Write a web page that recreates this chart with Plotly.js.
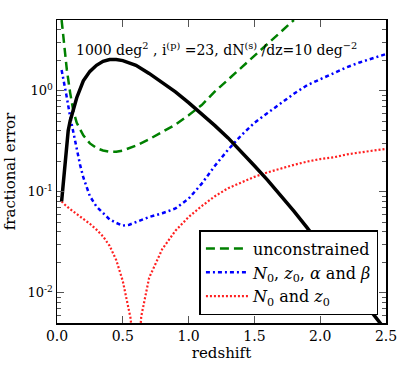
<!DOCTYPE html>
<html>
<head>
<meta charset="utf-8">
<script src="https://cdn.plot.ly/plotly-3.0.1.min.js"></script>
<style>
  html, body { margin: 0; padding: 0; background: #fff; }
  #chart { width: 409px; height: 368px; }
</style>
</head>
<body>
<div id="chart"></div>
<script>
// values
const zBlack = [0.035, 0.05, 0.065, 0.085, 0.1, 0.125, 0.15, 0.2, 0.25, 0.3, 0.35, 0.4, 0.45, 0.5, 0.6, 0.7, 0.8, 0.9, 1.0, 1.1, 1.2, 1.3, 1.4, 1.5, 1.6, 1.7, 1.8, 1.9, 2.0, 2.1, 2.2, 2.3, 2.4, 2.5];
const errBlack = [0.08, 0.13, 0.21, 0.40, 0.50, 0.66, 0.85, 1.25, 1.55, 1.78, 1.95, 2.03, 2.03, 1.98, 1.78, 1.48, 1.2, 0.97, 0.76, 0.59, 0.45, 0.34, 0.25, 0.18, 0.13, 0.092, 0.064, 0.044, 0.030, 0.020, 0.0135, 0.009, 0.0062, 0.0042];

const zGreen = [0.035, 0.05, 0.075, 0.1, 0.125, 0.15, 0.2, 0.25, 0.3, 0.35, 0.4, 0.45, 0.5, 0.6, 0.7, 0.8, 0.9, 1.0, 1.1, 1.2, 1.3, 1.4, 1.5, 1.6, 1.7, 1.8];
const errGreen = [5.0, 3.2, 1.6, 0.95, 0.62, 0.48, 0.36, 0.30, 0.27, 0.255, 0.248, 0.248, 0.255, 0.285, 0.33, 0.39, 0.46, 0.57, 0.72, 0.98, 1.28, 1.68, 2.2, 2.9, 3.8, 5.0];

const zBlue = [0.035, 0.05, 0.075, 0.1, 0.125, 0.15, 0.175, 0.2, 0.25, 0.3, 0.35, 0.4, 0.45, 0.5, 0.55, 0.6, 0.7, 0.8, 0.9, 1.0, 1.1, 1.2, 1.3, 1.4, 1.5, 1.6, 1.7, 1.8, 1.9, 2.0, 2.1, 2.2, 2.3, 2.4, 2.5];
const errBlue = [1.6, 1.3, 0.85, 0.55, 0.38, 0.26, 0.185, 0.138, 0.09, 0.071, 0.061, 0.053, 0.049, 0.046, 0.047, 0.050, 0.056, 0.061, 0.068, 0.085, 0.12, 0.18, 0.26, 0.36, 0.48, 0.6, 0.75, 0.93, 1.13, 1.3, 1.5, 1.7, 1.9, 2.1, 2.3];

const zRed = [0.035, 0.05, 0.1, 0.15, 0.2, 0.25, 0.3, 0.35, 0.4, 0.45, 0.5, 0.56, 0.6, 0.64, 0.7, 0.8, 0.9, 1.0, 1.1, 1.2, 1.3, 1.4, 1.5, 1.6, 1.7, 1.8, 1.9, 2.0, 2.1, 2.2, 2.3, 2.4, 2.5];
const errRed = [0.080, 0.076, 0.067, 0.060, 0.054, 0.048, 0.042, 0.036, 0.029, 0.021, 0.013, 0.0055, 0.001, 0.0058, 0.014, 0.027, 0.041, 0.056, 0.072, 0.090, 0.108, 0.124, 0.14, 0.155, 0.17, 0.184, 0.198, 0.21, 0.218, 0.233, 0.244, 0.255, 0.265];

const xTicks = [0, 0.5, 1.0, 1.5, 2.0, 2.5];
const yTickVals = [0.01, 0.1, 1];
const yTickText = ['10<sup>-2</sup>', '10<sup>-1</sup>', '10<sup>0</sup>'];
const yMinorVals = [0.005, 0.006, 0.007, 0.008, 0.009, 0.02, 0.03, 0.04, 0.05, 0.06, 0.07, 0.08, 0.09,
  0.2, 0.3, 0.4, 0.5, 0.6, 0.7, 0.8, 0.9, 2, 3, 4, 5];

const serif = 'DejaVu Serif';

const traces = [
  {
    x: zGreen, y: errGreen, mode: 'lines', name: 'unconstrained',
    line: { color: '#008000', width: 2.5, dash: '9px,5px' }
  },
  {
    x: zBlue, y: errBlue, mode: 'lines',
    name: '<i>N</i><sub>0</sub>, <i>z</i><sub>0</sub>, <i>α</i> and <i>β</i>',
    line: { color: '#0000ff', width: 2.5, dash: '4px,3px,2px,3px' }
  },
  {
    x: zRed, y: errRed, mode: 'lines',
    name: '<i>N</i><sub>0</sub> and <i>z</i><sub>0</sub>',
    line: { color: '#ff2020', width: 2.2, dash: '2px,2px' }
  },
  {
    x: zBlack, y: errBlack, mode: 'lines', showlegend: false,
    line: { color: '#000000', width: 3.5 }
  }
];

const layout = {
  width: 409, height: 368,
  margin: { l: 57, r: 23, t: 20, b: 45 },
  paper_bgcolor: '#fff', plot_bgcolor: '#fff',
  font: { family: serif, size: 14, color: '#000' },
  showlegend: true,
  legend: {
    x: 0.977, y: 0.026, xanchor: 'right', yanchor: 'bottom',
    bordercolor: '#000', borderwidth: 1.5, bgcolor: '#fff',
    font: { family: serif, size: 16 }, itemwidth: 42
  },
  xaxis: {
    range: [0, 2.5], tickvals: xTicks, tickformat: '.1f',
    showgrid: false, zeroline: false,
    showline: true, linecolor: '#000', linewidth: 1.5, mirror: 'ticks',
    ticks: 'inside', ticklen: 7, tickcolor: '#555',
    tickfont: { family: serif, size: 14 },
    title: { text: 'redshift', font: { family: serif, size: 15 }, standoff: 3 }
  },
  yaxis: {
    type: 'log', range: [Math.log10(0.005), Math.log10(5)],
    tickvals: yTickVals, ticktext: yTickText,
    showgrid: false, zeroline: false,
    showline: true, linecolor: '#000', linewidth: 1.5, mirror: 'ticks',
    ticks: 'inside', ticklen: 7, tickcolor: '#555',
    tickfont: { family: serif, size: 13 },
    minor: { ticks: 'inside', ticklen: 4, tickcolor: '#555', tickvals: yMinorVals, showgrid: false },
    title: { text: 'fractional error', font: { family: serif, size: 15 }, standoff: 8 }
  },
  annotations: [{
    xref: 'paper', yref: 'paper', x: 0.486, y: 0.94, showarrow: false,
    text: '1000 deg<sup>2</sup> , i<sup>(p)</sup> =23, dN<sup>(s)</sup> /dz=10 deg<sup>−2</sup>',
    font: { family: serif, size: 14 }
  }]
};

Plotly.newPlot('chart', traces, layout, { displayModeBar: false, staticPlot: true });
</script>
</body>
</html>
